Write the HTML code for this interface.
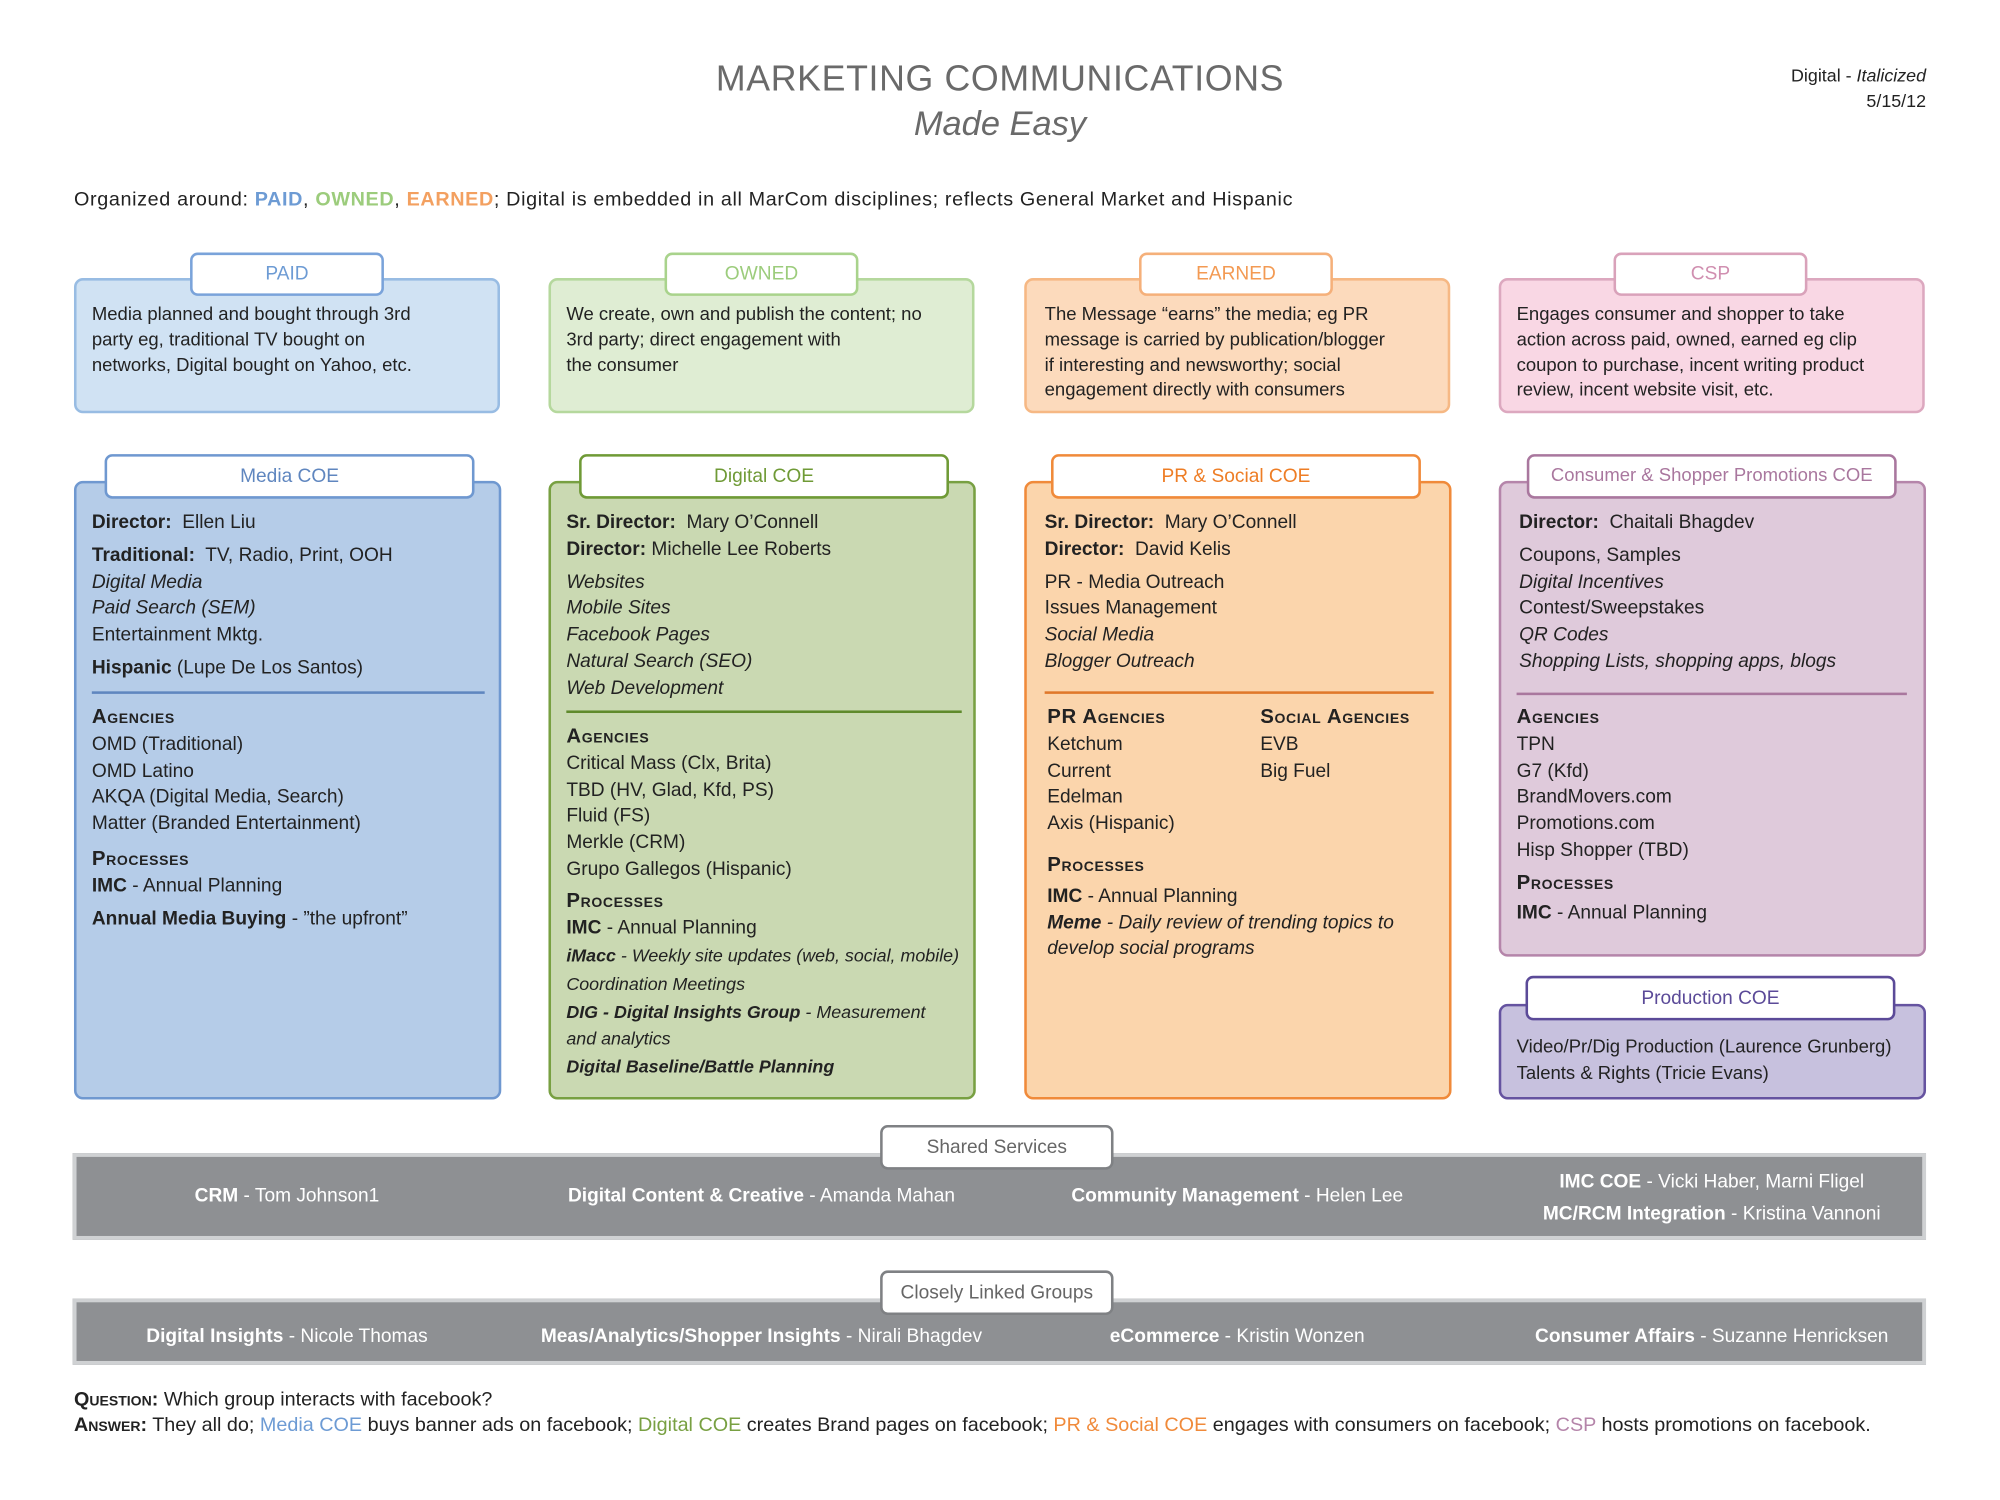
<!DOCTYPE html>
<html><head><meta charset="utf-8">
<style>
html,body{margin:0;padding:0;background:#fff;}
body{width:2000px;height:1500px;overflow:hidden;position:relative;}
#w{position:absolute;left:0;top:0;width:1568px;height:1176px;transform:scale(1.27551);transform-origin:0 0;font-family:"Liberation Sans",sans-serif;color:#222;}
.a{position:absolute;}
.box{position:absolute;border:2.5px solid;border-radius:7px;box-sizing:border-box;}
.tab{position:absolute;background:#fff;border:2.5px solid;border-radius:6px;box-sizing:border-box;text-align:center;font-size:15px;}
.t{position:absolute;font-size:15px;line-height:20.8px;}
.t p{margin:0;}
i{font-style:italic;}
.sc{font-variant:small-caps;font-weight:bold;letter-spacing:0.5px;font-size:16px;}
.bar{position:absolute;background:#8e9093;border:3px solid #cfd1d3;box-sizing:border-box;}
.bt{position:absolute;color:#fff;font-size:15px;text-align:center;}
.nw{white-space:nowrap;}
</style></head><body><div id="w">

<div class="a" style="left:0;width:1568px;top:46px;text-align:center;font-size:28px;color:#6a6a6a;letter-spacing:0.5px">MARKETING COMMUNICATIONS</div>
<div class="a" style="left:0;width:1568px;top:82px;text-align:center;font-size:27px;color:#6a6a6a;font-style:italic">Made Easy</div>
<div class="a" style="right:58px;top:49px;text-align:right;font-size:14px;line-height:20px">Digital - <i>Italicized</i><br>5/15/12</div>
<div class="a" style="left:58px;top:148px;font-size:15.5px;letter-spacing:0.5px;white-space:nowrap">Organized around: <b style="color:#6d9bd4">PAID</b>, <b style="color:#9ccc7c">OWNED</b>, <b style="color:#f3a060">EARNED</b>; Digital is embedded in all MarCom disciplines; reflects General Market and Hispanic</div>

<!-- top row -->
<div class="box" style="left:58px;top:218px;width:334px;height:106px;background:#d0e2f3;border-color:#98bce3"></div>
<div class="tab" style="left:149px;top:198px;width:152px;height:34px;line-height:30px;border-color:#7aa3da;color:#6d9bd4">PAID</div>
<div class="t nw" style="left:72px;top:238px;font-size:14.5px;line-height:19.8px">Media planned and bought through 3rd<br>party eg, traditional TV bought on<br>networks, Digital bought on Yahoo, etc.</div>

<div class="box" style="left:430px;top:218px;width:334px;height:106px;background:#dfedd3;border-color:#b5d89d"></div>
<div class="tab" style="left:521px;top:198px;width:152px;height:34px;line-height:30px;border-color:#a9d38c;color:#9ccc7c">OWNED</div>
<div class="t nw" style="left:444px;top:238px;font-size:14.5px;line-height:19.8px">We create, own and publish the content; no<br>3rd party; direct engagement with<br>the consumer</div>

<div class="box" style="left:803px;top:218px;width:334px;height:106px;background:#fcdabc;border-color:#f6b884"></div>
<div class="tab" style="left:893px;top:198px;width:152px;height:34px;line-height:30px;border-color:#f5b07a;color:#f39a53">EARNED</div>
<div class="t nw" style="left:819px;top:238px;font-size:14.5px;line-height:19.8px">The Message “earns” the media; eg PR<br>message is carried by publication/blogger<br>if interesting and newsworthy; social<br>engagement directly with consumers</div>

<div class="box" style="left:1175px;top:218px;width:334px;height:106px;background:#f9d7e4;border-color:#dca8bf"></div>
<div class="tab" style="left:1265px;top:198px;width:152px;height:34px;line-height:30px;border-color:#d9a2ba;color:#d08fb0">CSP</div>
<div class="t nw" style="left:1189px;top:238px;font-size:14.5px;line-height:19.8px">Engages consumer and shopper to take<br>action across paid, owned, earned eg clip<br>coupon to purchase, incent writing product<br>review, incent website visit, etc.</div>

<!-- COE row -->
<div class="box" style="left:58px;top:377px;width:335px;height:485px;background:#b5cce8;border-color:#6f98d0"></div>
<div class="tab" style="left:82px;top:356px;width:290px;height:35px;line-height:31px;border-color:#6f98d0;color:#5f86bf">Media COE</div>
<div class="t" style="left:72px;top:400px;width:310px">
<p><b>Director:</b>&nbsp; Ellen Liu</p>
<p style="margin-top:5px"><b>Traditional:</b>&nbsp; TV, Radio, Print, OOH</p>
<p><i>Digital Media</i></p><p><i>Paid Search (SEM)</i></p><p>Entertainment Mktg.</p>
<p style="margin-top:5px"><b>Hispanic</b> (Lupe De Los Santos)</p>
</div>
<div class="a" style="left:72px;top:542px;width:308px;border-top:2px solid #5f86bf"></div>
<div class="t" style="left:72px;top:553px;width:310px">
<p class="sc">Agencies</p>
<p>OMD (Traditional)</p><p>OMD Latino</p><p>AKQA (Digital Media, Search)</p><p>Matter (Branded Entertainment)</p>
<p class="sc" style="margin-top:7px">Processes</p>
<p><b>IMC</b> - Annual Planning</p>
<p style="margin-top:5px"><b>Annual Media Buying</b> - ”the upfront”</p>
</div>

<div class="box" style="left:430px;top:377px;width:335px;height:485px;background:#cad9b2;border-color:#78a042"></div>
<div class="tab" style="left:454px;top:356px;width:290px;height:35px;line-height:31px;border-color:#6f9a36;color:#6f9a36">Digital COE</div>
<div class="t" style="left:444px;top:400px;width:318px">
<p><b>Sr. Director:</b>&nbsp; Mary O’Connell</p><p><b>Director:</b> Michelle Lee Roberts</p>
<p style="margin-top:5px"><i>Websites</i></p><p><i>Mobile Sites</i></p><p><i>Facebook Pages</i></p><p><i>Natural Search (SEO)</i></p><p><i>Web Development</i></p>
</div>
<div class="a" style="left:444px;top:557px;width:310px;border-top:2px solid #5f8a2c"></div>
<div class="t" style="left:444px;top:568px;width:320px">
<p class="sc">Agencies</p>
<p>Critical Mass (Clx, Brita)</p><p>TBD (HV, Glad, Kfd, PS)</p><p>Fluid (FS)</p><p>Merkle (CRM)</p><p>Grupo Gallegos (Hispanic)</p>
<p class="sc" style="margin-top:4px">Processes</p>
<p><b>IMC</b> - Annual Planning</p>
<p style="font-size:14px;line-height:22px"><b><i>iMacc</i></b><i> - Weekly site updates (web, social, mobile)</i></p>
<p style="font-size:14px;line-height:22px"><i>Coordination Meetings</i></p>
<p style="font-size:14px;line-height:22px"><b><i>DIG - Digital Insights Group</i></b><i> - Measurement</i></p>
<p style="font-size:14px;line-height:20px"><i>and analytics</i></p>
<p style="font-size:14px;line-height:24px"><b><i>Digital Baseline/Battle Planning</i></b></p>
</div>

<div class="box" style="left:803px;top:377px;width:335px;height:485px;background:#fbd5ac;border-color:#f08a3a"></div>
<div class="tab" style="left:824px;top:356px;width:290px;height:35px;line-height:31px;border-color:#f08a3a;color:#ee7d25">PR &amp; Social COE</div>
<div class="t" style="left:819px;top:400px;width:310px">
<p><b>Sr. Director:</b>&nbsp; Mary O’Connell</p><p><b>Director:</b>&nbsp; David Kelis</p>
<p style="margin-top:5px">PR - Media Outreach</p><p>Issues Management</p><p><i>Social Media</i></p><p><i>Blogger Outreach</i></p>
</div>
<div class="a" style="left:819px;top:542px;width:305px;border-top:2px solid #e0782a"></div>
<div class="t" style="left:821px;top:553px;width:160px">
<p class="sc">PR Agencies</p><p>Ketchum</p><p>Current</p><p>Edelman</p><p>Axis (Hispanic)</p>
</div>
<div class="t" style="left:988px;top:553px;width:150px">
<p class="sc">Social Agencies</p><p>EVB</p><p>Big Fuel</p>
</div>
<div class="t" style="left:821px;top:669px;width:310px">
<p class="sc">Processes</p>
<p style="margin-top:3px"><b>IMC</b> - Annual Planning</p>
<p><b><i>Meme</i></b><i> - Daily review of trending topics to develop social programs</i></p>
</div>

<div class="box" style="left:1175px;top:377px;width:335px;height:373px;background:#dfcadb;border-color:#b585aa"></div>
<div class="tab" style="left:1197px;top:356px;width:290px;height:35px;line-height:31px;border-color:#a9779e;color:#a9779e;font-size:14.5px">Consumer &amp; Shopper Promotions COE</div>
<div class="t" style="left:1191px;top:400px;width:310px">
<p><b>Director:</b>&nbsp; Chaitali Bhagdev</p>
<p style="margin-top:5px">Coupons, Samples</p><p><i>Digital Incentives</i></p><p>Contest/Sweepstakes</p><p><i>QR Codes</i></p><p><i>Shopping Lists, shopping apps, blogs</i></p>
</div>
<div class="a" style="left:1189px;top:543px;width:306px;border-top:2px solid #a9779e"></div>
<div class="t" style="left:1189px;top:553px;width:310px">
<p class="sc">Agencies</p><p>TPN</p><p>G7 (Kfd)</p><p>BrandMovers.com</p><p>Promotions.com</p><p>Hisp Shopper (TBD)</p>
<p class="sc" style="margin-top:5px">Processes</p>
<p style="margin-top:2px"><b>IMC</b> - Annual Planning</p>
</div>

<div class="box" style="left:1175px;top:787px;width:335px;height:75px;background:#c7c1de;border-color:#6553a0"></div>
<div class="tab" style="left:1196px;top:765px;width:290px;height:35px;line-height:31px;border-color:#5b4a98;color:#5b4a98">Production COE</div>
<div class="t nw" style="left:1189px;top:811px;font-size:14.5px">Video/Pr/Dig Production (Laurence Grunberg)<br>Talents &amp; Rights (Tricie Evans)</div>

<!-- shared -->
<div class="bar" style="left:57px;top:904px;width:1453px;height:68px"></div>
<div class="tab" style="left:690px;top:882px;width:183px;height:35px;line-height:31px;border-color:#7f8184;color:#666">Shared Services</div>
<div class="bt" style="left:60px;width:330px;top:929px"><b>CRM</b> - Tom Johnson1</div>
<div class="bt" style="left:430px;width:334px;top:929px"><b>Digital Content &amp; Creative</b> - Amanda Mahan</div>
<div class="bt" style="left:803px;width:334px;top:929px"><b>Community Management</b> - Helen Lee</div>
<div class="bt" style="left:1175px;width:334px;top:914px;line-height:25px"><b>IMC COE</b> - Vicki Haber, Marni Fligel<br><b>MC/RCM Integration</b> - Kristina Vannoni</div>

<div class="bar" style="left:57px;top:1018px;width:1453px;height:52px"></div>
<div class="tab" style="left:690px;top:996px;width:183px;height:35px;line-height:31px;border-color:#7f8184;color:#666">Closely Linked Groups</div>
<div class="bt" style="left:60px;width:330px;top:1039px"><b>Digital Insights</b> - Nicole Thomas</div>
<div class="bt" style="left:420px;width:354px;top:1039px"><b>Meas/Analytics/Shopper Insights</b> - Nirali Bhagdev</div>
<div class="bt" style="left:803px;width:334px;top:1039px"><b>eCommerce</b> - Kristin Wonzen</div>
<div class="bt" style="left:1175px;width:334px;top:1039px"><b>Consumer Affairs</b> - Suzanne Henricksen</div>

<div class="a" style="left:58px;top:1089px;font-size:15.5px"><b style="font-variant:small-caps">Question:</b> Which group interacts with facebook?</div>
<div class="a" style="left:58px;top:1109px;font-size:15.5px;white-space:nowrap;letter-spacing:0px"><b style="font-variant:small-caps">Answer:</b> They all do; <span style="color:#6d9bd4">Media COE</span> buys banner ads on facebook; <span style="color:#78a042">Digital COE</span> creates Brand pages on facebook; <span style="color:#f08a3a">PR &amp; Social COE</span> engages with consumers on facebook; <span style="color:#b585aa">CSP</span> hosts promotions on facebook.</div>

</div></body></html>
